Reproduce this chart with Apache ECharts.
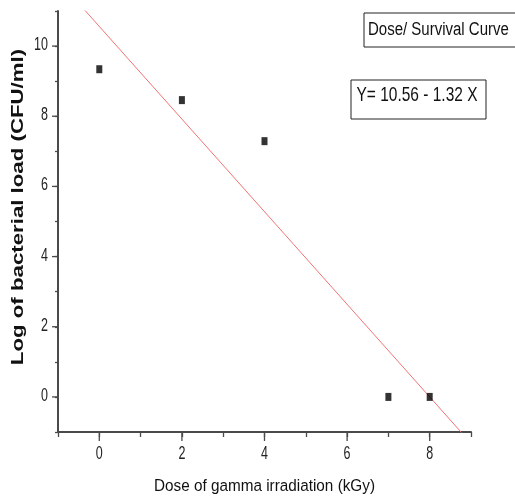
<!DOCTYPE html>
<html>
<head>
<meta charset="utf-8">
<script src="https://cdn.jsdelivr.net/npm/echarts@6/dist/echarts.min.js"></script>
<style>html,body{margin:0;padding:0;background:#fff;}#c{width:515px;height:501px;}</style>
</head>
<body>
<div id="c"></div>
<script>
var doses = [0, 2, 4, 7, 8];
var logLoad = [9.34, 8.46, 7.29, 0, 0];
var fitIntercept = 10.56;
var fitSlope = -1.32;
var xTicks = [0, 2, 4, 6, 8];
var yTicks = [0, 2, 4, 6, 8, 10];
var xMin = -1, xMax = 9, yMin = -1, yMax = 11;
var xTitle = 'Dose of gamma irradiation (kGy)';
var yTitle = 'Log of bacterial load (CFU/ml)';
var legendTitle = 'Dose/ Survival Curve';
var equationText = 'Y= 10.56 - 1.32 X';

var points = doses.map(function (d, i) { return [d, logLoad[i]]; });
var fitLine = [[xMin, fitIntercept + fitSlope * xMin], [xMax, fitIntercept + fitSlope * xMax]];

var font = '"Liberation Sans",Arial,sans-serif';
var axisColor = '#4a4a4a';
var chart = echarts.init(document.getElementById('c'));
chart.setOption({
  animation: false,
  grid: { left: 58, top: 11, right: 44, bottom: 69, containLabel: false },
  xAxis: {
    type: 'value', min: xMin, max: xMax, interval: 1,
    axisLine: { show: true, onZero: false, lineStyle: { color: axisColor, width: 2 } },
    axisTick: { show: true, inside: false, length: 5, lineStyle: { color: axisColor, width: 1.3 } },
    axisLabel: { show: false },
    splitLine: { show: false }
  },
  yAxis: {
    type: 'value', min: yMin, max: yMax, interval: 1,
    axisLine: { show: true, onZero: false, lineStyle: { color: axisColor, width: 2 } },
    axisTick: { show: true, inside: false, length: 3, lineStyle: { color: axisColor, width: 1.3 } },
    axisLabel: { show: false },
    splitLine: { show: false }
  },
  series: [
    {
      type: 'line', data: fitLine, showSymbol: false, symbol: 'none', clip: true,
      lineStyle: { color: '#f07474', width: 1 }, z: 1
    },
    {
      type: 'scatter', data: points, symbol: 'rect', symbolSize: [6, 8],
      itemStyle: { color: '#000' }, z: 2
    }
  ]
});

var x0 = chart.convertToPixel({ xAxisIndex: 0 }, xMin);
var x1 = chart.convertToPixel({ xAxisIndex: 0 }, xMax);
var yBottom = chart.convertToPixel({ yAxisIndex: 0 }, yMin);
var yTop = chart.convertToPixel({ yAxisIndex: 0 }, yMax);
var g = [];
var tickStyle = { stroke: axisColor, lineWidth: 1.3 };

xTicks.forEach(function (v) {
  var px = chart.convertToPixel({ xAxisIndex: 0 }, v);
  g.push({ type: 'line', shape: { x1: px, y1: yBottom, x2: px, y2: yBottom + 9 }, style: tickStyle, silent: true });
  g.push({ type: 'text', x: px, y: yBottom + 22, scaleX: 1, scaleY: 1.45,
    style: { text: String(v), font: '12.5px ' + font, fill: '#222', align: 'center', verticalAlign: 'middle' } });
});
yTicks.forEach(function (v) {
  var py = chart.convertToPixel({ yAxisIndex: 0 }, v);
  g.push({ type: 'line', shape: { x1: x0 - 6, y1: py, x2: x0, y2: py }, style: tickStyle, silent: true });
  g.push({ type: 'text', x: x0 - 10, y: py - 1, scaleX: 1, scaleY: 1.45,
    style: { text: String(v), font: '12.5px ' + font, fill: '#222', align: 'right', verticalAlign: 'middle' } });
});

// axis titles
g.push({ type: 'text', x: (x0 + x1) / 2, y: yBottom + 54, scaleY: 1.12,
  style: { text: xTitle, font: '15.3px ' + font, fill: '#111', align: 'center', verticalAlign: 'middle' } });
g.push({ type: 'text', x: 19, y: 207, rotation: Math.PI / 2, scaleX: 1.39, scaleY: 1,
  style: { text: yTitle, font: 'bold 16px ' + font, fill: '#111', align: 'center', verticalAlign: 'middle' } });

// boxes
g.push({ type: 'rect', shape: { x: 364, y: 13, width: 160, height: 34 },
  style: { fill: '#fff', stroke: '#222', lineWidth: 1 } });
g.push({ type: 'text', x: 368, y: 30.5, scaleY: 1.2,
  style: { text: legendTitle, font: '15px ' + font, fill: '#111', verticalAlign: 'middle' } });
g.push({ type: 'rect', shape: { x: 351, y: 80, width: 135, height: 39 },
  style: { fill: '#fff', stroke: '#222', lineWidth: 1 } });
g.push({ type: 'text', x: 417, y: 95.5, scaleY: 1.29,
  style: { text: equationText, font: '15.5px ' + font, fill: '#111', align: 'center', verticalAlign: 'middle' } });

chart.setOption({ graphic: g });
</script>
</body>
</html>
